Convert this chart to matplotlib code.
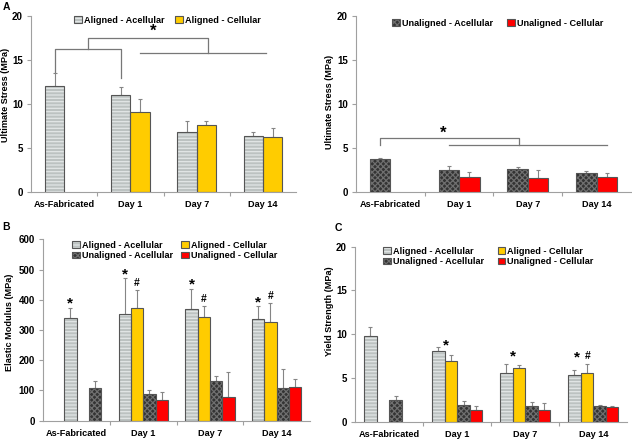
import numpy as np
import matplotlib
matplotlib.use("Agg")
import matplotlib.pyplot as plt
from matplotlib.patches import Patch
from matplotlib.ticker import FixedLocator

plt.rcParams["font.family"] = ["Liberation Sans", "DejaVu Sans"]
plt.rcParams["font.weight"] = "bold"
plt.rcParams["hatch.linewidth"] = 0.9

nan = np.nan
cats = ["As-Fabricated", "Day 1", "Day 7", "Day 14"]

# ultimate stress (MPa), panel A
al_acel_us = [12.05, 11.06, 6.86, 6.4]
al_acel_us_sd = [1.5, 0.9, 1.25, 0.45]
al_cel_us = [nan, 9.02, 7.58, 6.2]
al_cel_us_sd = [nan, 1.5, 0.52, 1.07]
un_acel_us = [3.71, 2.54, 2.65, 2.2]
un_acel_us_sd = [0.19, 0.45, 0.23, 0.15]
un_cel_us = [nan, 1.7, 1.59, 1.74]
un_cel_us_sd = [nan, 0.57, 0.91, 0.46]

# elastic modulus (MPa), panel B
al_acel_em = [341, 354, 368, 335]
al_acel_em_sd = [33, 117, 68, 44]
al_cel_em = [nan, 372, 344, 328]
al_cel_em_sd = [nan, 59, 35, 60]
un_acel_em = [107, 87, 130, 107]
un_acel_em_sd = [24, 16, 18, 64]
un_cel_em = [nan, 69, 77, 110]
un_cel_em_sd = [nan, 27, 84, 27]

# yield strength (MPa), panel C
al_acel_ys = [9.83, 8.04, 5.6, 5.3]
al_acel_ys_sd = [1.03, 0.46, 1.03, 0.6]
al_cel_ys = [nan, 6.93, 6.17, 5.56]
al_cel_ys_sd = [nan, 0.65, 0.33, 1.03]
un_acel_ys = [2.51, 1.87, 1.83, 1.79]
un_acel_ys_sd = [0.42, 0.49, 0.42, 0.11]
un_cel_ys = [nan, 1.33, 1.33, 1.68]
un_cel_ys_sd = [nan, 0.46, 0.77, 0.07]

labels = ["Aligned - Acellular", "Aligned - Cellular",
          "Unaligned - Acellular", "Unaligned - Cellular"]

# face, hatch, hatch colour
styles = [
    ("#bcc2c1", "-----", "#e2e6e6"),
    ("#ffcc00", None, "#ffcc00"),
    ("#333333", "xxxxxx", "#6f6f6f"),
    ("#ff0000", None, "#ff0000"),
]
EDGE = "#555555"
FS = 6.6


def bars(ax, xs, vals, sd, w, k):
    fc, h, hc = styles[k]
    vals = np.array(vals, float)
    sd = np.array(sd, float)
    ax.bar(xs, vals, w, color=fc, hatch=h, edgecolor=hc, linewidth=0,
           zorder=2)
    ax.bar(xs, vals, w, fill=False, edgecolor=EDGE, linewidth=0.8, zorder=3)
    ax.errorbar(xs, vals, yerr=[np.zeros_like(sd), sd], fmt="none",
                ecolor="#858585", elinewidth=0.8, capsize=1.3,
                capthick=0.8, zorder=1)


def handle(k):
    fc, h, hc = styles[k]
    return (Patch(facecolor=fc, hatch=h, edgecolor=hc, linewidth=0),
            Patch(fill=False, edgecolor=EDGE, linewidth=0.8))


def style_ax(ax, ymax, ystep, ylabel, lx, ly):
    ax.set_xlim(-0.5, 3.5)
    ax.set_ylim(0, ymax)
    ax.set_yticks(np.arange(0, ymax + 1e-9, ystep))
    ax.set_xticks(range(4))
    ax.set_xticklabels(cats)
    ax.xaxis.set_minor_locator(FixedLocator([0.5, 1.5, 2.5]))
    for s in ["top", "right"]:
        ax.spines[s].set_visible(False)
    for s in ["left", "bottom"]:
        ax.spines[s].set_color("#a0a0a0")
        ax.spines[s].set_linewidth(0.8)
    ax.tick_params(axis="x", which="major", length=0, pad=6, labelsize=FS)
    ax.tick_params(axis="x", which="minor", length=3, color="#a0a0a0",
                   width=0.8)
    ax.tick_params(axis="y", length=3, color="#a0a0a0", width=0.8, pad=3,
                   labelsize=FS + 0.4)
    ax.set_ylabel(ylabel, fontsize=FS, fontweight="bold")
    ax.yaxis.set_label_coords(lx, ly, transform=ax.figure.transFigure)


def leg(ax, ks, x, y, ncol, colsp, fs=FS):
    ax.legend([handle(k) for k in ks], [labels[k] for k in ks],
              loc="upper left", bbox_to_anchor=(x, y),
              bbox_transform=ax.figure.transFigure, ncol=ncol,
              frameon=False, borderpad=0, borderaxespad=0,
              handlelength=0.85, handleheight=0.75, handletextpad=0.2,
              columnspacing=colsp, labelspacing=0.12,
              prop={"size": fs, "weight": "bold"})


def mark(ax, x, y, s, dy):
    ax.annotate(s, xy=(x, y), xytext=(0, dy), textcoords="offset points",
                ha="center", va="center", fontweight="bold",
                fontsize=11 if s == "*" else 7.5)


def bracket(ax, pts):
    ax.plot([p[0] for p in pts], [p[1] for p in pts], color="#777777",
            lw=0.9, zorder=4, clip_on=False)


fig = plt.figure(figsize=(6.32, 4.41), dpi=100)
x = np.arange(4)

# ---- panel A, aligned ultimate stress
axA = fig.add_axes([0.0491, 0.5646, 0.4193, 0.3998])
wA = 0.29
bars(axA, x - wA / 2, al_acel_us, al_acel_us_sd, wA, 0)
bars(axA, x + wA / 2, al_cel_us, al_cel_us_sd, wA, 1)
style_ax(axA, 20, 5, "Ultimate Stress (MPa)", 0.016, 0.785)
leg(axA, [0, 1], 74 / 632, 1 - 16 / 441, 2, 1.2)
c0, c1 = -wA / 2, 1 - wA / 2
mid = (c0 + c1) / 2
bracket(axA, [(c0, 13.6), (c0, 16.17), (c1, 16.17), (c1, 12.9)])
bracket(axA, [(mid, 16.17), (mid, 17.5), (2.174, 17.5), (2.174, 15.8)])
bracket(axA, [(1 + wA / 2, 15.8), (3.05, 15.8)])
axA.text(1.345, 18.2, "*", ha="center", va="center", fontsize=12,
         fontweight="bold")
fig.text(0.004, 0.995, "A", ha="left", va="top", fontsize=7.5,
         fontweight="bold")

# ---- panel A right, unaligned ultimate stress
axR = fig.add_axes([0.5633, 0.5646, 0.4351, 0.3998])
wR = 0.30
bars(axR, x - wR / 2, un_acel_us, un_acel_us_sd, wR, 2)
bars(axR, x + wR / 2, un_cel_us, un_cel_us_sd, wR, 3)
style_ax(axR, 20, 5, "Ultimate Stress (MPa)", 0.528, 0.769)
leg(axR, [2, 3], 392 / 632, 1 - 19 / 441, 2, 1.6)
c0, c1 = -wR / 2, 1 - wR / 2
bracket(axR, [(c0, 5.38), (c0, 6.17), (1.875, 6.17), (1.875, 5.38)])
bracket(axR, [(c1, 5.3), (3.146, 5.3)])
axR.text(0.77, 6.7, "*", ha="center", va="center", fontsize=12,
         fontweight="bold")

# ---- panel B, elastic modulus
axB = fig.add_axes([0.0685, 0.046, 0.422, 0.4113])
wB = 0.185
off = np.array([-1.5, -0.5, 0.5, 1.5]) * wB
# As-Fabricated bars sit in slots 1 and 3 here
slotsB = [[1, 0, 0, 0], [0, 1, 1, 1], [3, 2, 2, 2], [3, 3, 3, 3]]
seriesB = [(al_acel_em, al_acel_em_sd), (al_cel_em, al_cel_em_sd),
           (un_acel_em, un_acel_em_sd), (un_cel_em, un_cel_em_sd)]
for k, (v, s) in enumerate(seriesB):
    bars(axB, x + off[slotsB[k]], v, s, wB, k)
style_ax(axB, 600, 100, "Elastic Modulus (MPa)", 0.022, 0.268)
leg(axB, [0, 2, 1, 3], 72 / 632, 1 - 241 / 441, 2, 0.9)
for i in range(4):
    xa = x[i] + off[slotsB[0][i]]
    mark(axB, xa, al_acel_em[i] + al_acel_em_sd[i], "*", 3.0)
    if i > 0:
        xc = x[i] + off[slotsB[1][i]]
        mark(axB, xc, al_cel_em[i] + al_cel_em_sd[i], "#", 5.5)
fig.text(0.004, 0.497, "B", ha="left", va="top", fontsize=7.5,
         fontweight="bold")

# ---- panel C, yield strength
axC = fig.add_axes([0.5622, 0.0438, 0.4304, 0.3968])
wC = 0.185
slotsC = [[0, 0, 0, 0], [1, 1, 1, 1], [2, 2, 2, 2], [3, 3, 3, 3]]
seriesC = [(al_acel_ys, al_acel_ys_sd), (al_cel_ys, al_cel_ys_sd),
           (un_acel_ys, un_acel_ys_sd), (un_cel_ys, un_cel_ys_sd)]
for k, (v, s) in enumerate(seriesC):
    bars(axC, x + off[slotsC[k]], v, s, wC, k)
style_ax(axC, 20, 5, "Yield Strength (MPa)", 0.528, 0.294)
leg(axC, [0, 2, 1, 3], 383 / 632, 1 - 247 / 441, 2, 1.5)
axC.text(1 - 0.17, 8.75, "*", ha="center", va="center", fontsize=11,
         fontweight="bold")
axC.text(2 - 0.185, 7.43, "*", ha="center", va="center", fontsize=11,
         fontweight="bold")
axC.text(3 - 0.24, 7.35, "*", ha="center", va="center", fontsize=11,
         fontweight="bold")
axC.text(3 - 0.083, 7.5, "#", ha="center", va="center", fontsize=7.5,
         fontweight="bold")
fig.text(0.529, 0.495, "C", ha="left", va="top", fontsize=7.5,
         fontweight="bold")

fig.savefig("out.png", dpi=100)
